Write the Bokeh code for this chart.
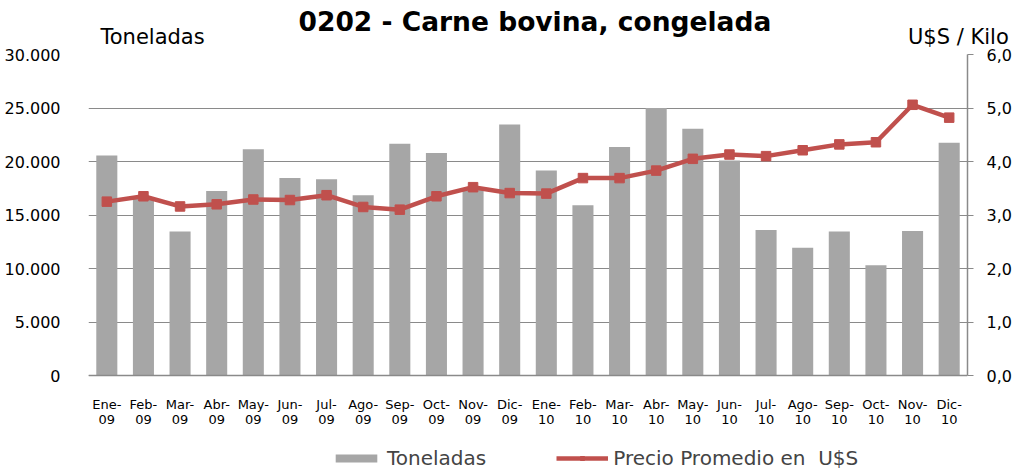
from bokeh.plotting import figure
from bokeh.models import (Range1d, LinearAxis, FixedTicker, Legend, LegendItem,
                          ColumnDataSource, Span)
from bokeh.core.properties import value
from bokeh.embed import file_html
from bokeh.resources import INLINE

# ---- data ----
months = ["Ene", "Feb", "Mar", "Abr", "May", "Jun", "Jul", "Ago", "Sep", "Oct", "Nov", "Dic"]
years = ["09", "10"]
month_labels = [m + "-" for y in years for m in months]
year_labels = [y for y in years for m in months]

toneladas = [20550, 16500, 13450, 17250, 21150, 18450, 18350, 16850, 21650, 20800, 17500, 23450,
             19150, 15900, 21350, 25000, 23050, 20100, 13600, 11950, 13450, 10300, 13500, 21750]
precio = [3.25, 3.35, 3.16, 3.20, 3.29, 3.28, 3.37, 3.15, 3.10, 3.35, 3.52, 3.41,
          3.40, 3.69, 3.69, 3.83, 4.05, 4.13, 4.10, 4.21, 4.32, 4.36, 5.06, 4.82]

left_ticks = [0, 5000, 10000, 15000, 20000, 25000, 30000]
left_labels = ["0", "5.000", "10.000", "15.000", "20.000", "25.000", "30.000"]
right_ticks = [0, 1, 2, 3, 4, 5, 6]
right_labels = ["0,0", "1,0", "2,0", "3,0", "4,0", "5,0", "6,0"]

title = "0202 - Carne bovina, congelada"
left_title = "Toneladas"
right_title = "U$S / Kilo"
legend_bar = "Toneladas"
legend_line = "Precio Promedio en  U$S"

FONT = "DejaVu Sans"
BAR = "#a6a6a6"
RED = "#c0504d"
GRID = "#8a8a8a"

# layout (pixels): plot body 321 px tall, 95 px below the zero line for labels/legend
BODY_PX = 321
BELOW_PX = 95
Y_MAX = 30000
P_MAX = 6

n = len(toneladas)
idx = list(range(n))
src = ColumnDataSource(dict(x=idx, ton=toneladas, pre=precio, m=month_labels, yr=year_labels))

p = figure(x_range=Range1d(-0.5, n - 0.5),
           y_range=Range1d(-Y_MAX * BELOW_PX / BODY_PX, Y_MAX),
           width=1016, height=470, output_backend="svg", toolbar_location=None,
           x_axis_location=None,
           min_border_left=88, min_border_right=49, min_border_top=54, min_border_bottom=0)
p.outline_line_color = None
p.background_fill_color = "white"
p.border_fill_color = "white"

p.extra_y_ranges = {"precio": Range1d(-P_MAX * BELOW_PX / BODY_PX, P_MAX)}

bars = p.vbar(x="x", top="ton", width=0.575, source=src, fill_color=BAR, line_color=None)
line = p.line(x="x", y="pre", source=src, y_range_name="precio", line_color=RED,
              line_width=4.5, line_join="round")
pts = p.scatter(x="x", y="pre", source=src, y_range_name="precio", marker="square",
                size=9.5, fill_color=RED, line_color=RED)

# category labels under the zero line (two rows)
p.text(x="x", y=0, text="m", source=src, y_offset=21, text_align="center",
       text_baseline="top", text_font=value(FONT), text_font_size="13px", text_color="black")
p.text(x="x", y=0, text="yr", source=src, y_offset=39, text_align="center",
       text_baseline="top", text_font=value(FONT), text_font_size="13px", text_color="black")

# x axis line at zero
p.add_layout(Span(location=0, dimension="width", line_color=GRID, line_width=1.5))

# left axis
ya = p.yaxis[0]
ya.ticker = FixedTicker(ticks=left_ticks)
ya.major_label_overrides = {t: l for t, l in zip(left_ticks, left_labels)}
ya.axis_line_color = None
ya.major_tick_line_color = None
ya.minor_tick_line_color = None
ya.major_label_standoff = 22
ya.major_label_text_font = FONT
ya.major_label_text_font_size = "16px"
ya.major_label_text_color = "black"

p.ygrid.ticker = FixedTicker(ticks=left_ticks)
p.ygrid.grid_line_color = GRID
p.xgrid.grid_line_color = None

# right axis
ra = LinearAxis(y_range_name="precio", ticker=FixedTicker(ticks=right_ticks),
                bounds=(0, P_MAX))
ra.major_label_overrides = {t: l for t, l in zip(right_ticks, right_labels)}
ra.axis_line_color = GRID
ra.axis_line_width = 1.5
ra.major_tick_line_color = GRID
ra.major_tick_in = 0
ra.major_tick_out = 6
ra.minor_tick_line_color = None
ra.major_label_standoff = 13
ra.major_label_text_font = FONT
ra.major_label_text_font_size = "16px"
ra.major_label_text_color = "black"
p.add_layout(ra, "right")

# top "axis" carrying the two axis titles
ta = LinearAxis(ticker=FixedTicker(ticks=[1.25, 23.25]))
ta.major_label_overrides = {1.25: left_title, 23.25: right_title}
ta.axis_line_color = None
ta.major_tick_line_color = None
ta.minor_tick_line_color = None
ta.major_label_standoff = 0
ta.major_label_text_font = FONT
ta.major_label_text_font_size = "21px"
ta.major_label_text_color = "black"
p.add_layout(ta, "above")

p.title.text = title
p.title.text_font = FONT
p.title.text_font_size = "26.5px"
p.title.text_font_style = "bold"
p.title.text_color = "black"
p.title.align = "left"
p.title.offset = 210
p.title.padding = 0
p.title.standoff = -30

legend = Legend(items=[LegendItem(label=legend_bar, renderers=[bars]),
                       LegendItem(label=legend_line, renderers=[line, pts])],
                orientation="horizontal", location=(242, 0),
                glyph_width=52, glyph_height=10, label_standoff=5, spacing=70,
                padding=0, margin=0, background_fill_alpha=0, border_line_color=None,
                label_text_font=FONT, label_text_font_size="20px")
p.add_layout(legend, "center")

open("out.html", "w").write(file_html(p, INLINE))
